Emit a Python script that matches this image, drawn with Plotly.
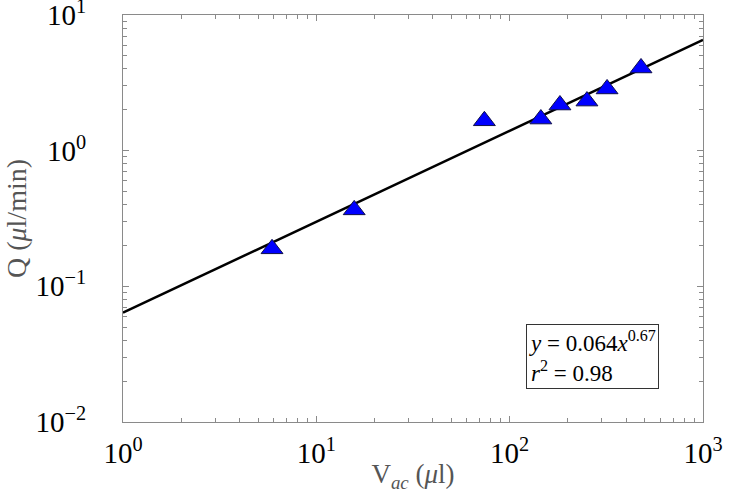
import plotly.graph_objects as go

# Data
v_ac = [5.9, 15.7, 74, 145, 182, 251, 319, 478]          # V_ac (μl)
q = [0.189, 0.366, 1.66, 1.71, 2.17, 2.32, 2.85, 4.07]     # Q (μl/min)

fit_x = [1, 1000]
fit_y = [0.064, 6.55]

x_ticks = [1, 10, 100, 1000]
x_ticktext = ["10<sup>0</sup>", "10<sup>1</sup>", "10<sup>2</sup>", "10<sup>3</sup>"]
y_ticks = [0.01, 0.1, 1, 10]
y_ticktext = ["10<sup>−2</sup>", "10<sup>−1</sup>", "10<sup>0</sup>", "10<sup>1</sup>"]

x_minor = [m * d for d in [1, 10, 100] for m in range(2, 10)]
y_minor = [m * d for d in [0.01, 0.1, 1] for m in range(2, 10)]

serif = "Liberation Serif, Times New Roman, serif"

fig = go.Figure()
fig.add_trace(go.Scatter(
    x=fit_x, y=fit_y, mode="lines",
    line=dict(color="black", width=2.5), showlegend=False, hoverinfo="skip"))
fig.add_trace(go.Scatter(
    x=v_ac, y=q, mode="markers",
    marker=dict(symbol="triangle-up", size=19, color="#0000FF",
                line=dict(color="#10104a", width=1)),
    showlegend=False))

axis_common = dict(
    type="log", showgrid=False, zeroline=False, automargin=False,
    showline=True, linecolor="#8a8a8a", linewidth=1, mirror="allticks",
    ticks="inside", ticklen=6, tickcolor="#8a8a8a", tickwidth=1,
    ticklabeloverflow="allow",
    tickfont=dict(family=serif, size=29, color="black"),
)

fig.update_xaxes(range=[0, 3], tickmode="array", tickvals=x_ticks, ticktext=x_ticktext,
                 ticklabelstandoff=5,
                 minor=dict(ticks="inside", ticklen=4, tickcolor="#8a8a8a", tickwidth=1,
                            showgrid=False, tickmode="array", tickvals=x_minor),
                 **axis_common,
                 title=dict(text="V<sub><i>ac</i></sub> (<i>μ</i>l)",
                            font=dict(family=serif, size=27, color="#555555"),
                            standoff=0))
fig.update_yaxes(range=[-2, 1], tickmode="array", tickvals=y_ticks, ticktext=y_ticktext,
                 ticklabelstandoff=30,
                 minor=dict(ticks="inside", ticklen=4, tickcolor="#8a8a8a", tickwidth=1,
                            showgrid=False, tickmode="array", tickvals=y_minor),
                 **axis_common,
                 title=dict(text="Q (<i>μ</i>l/min)",
                            font=dict(family=serif, size=28, color="#555555"),
                            standoff=0))

fig.add_annotation(
    xref="paper", yref="paper", x=0.695, y=0.241, xanchor="left", yanchor="top",
    text="<i>y</i> = 0.064<i>x</i><sup>0.67</sup><br><i>r</i><sup>2</sup> = 0.98",
    showarrow=False, align="left",
    font=dict(family=serif, size=23, color="black"),
    bordercolor="#333333", borderwidth=1, borderpad=2, bgcolor="white")

fig.update_layout(
    width=734, height=493,
    margin=dict(l=123, r=31, t=15, b=71),
    paper_bgcolor="white", plot_bgcolor="white",
)

fig.write_html("out.html", config={"displayModeBar": False},
               post_script="document.body.style.margin='0';")
